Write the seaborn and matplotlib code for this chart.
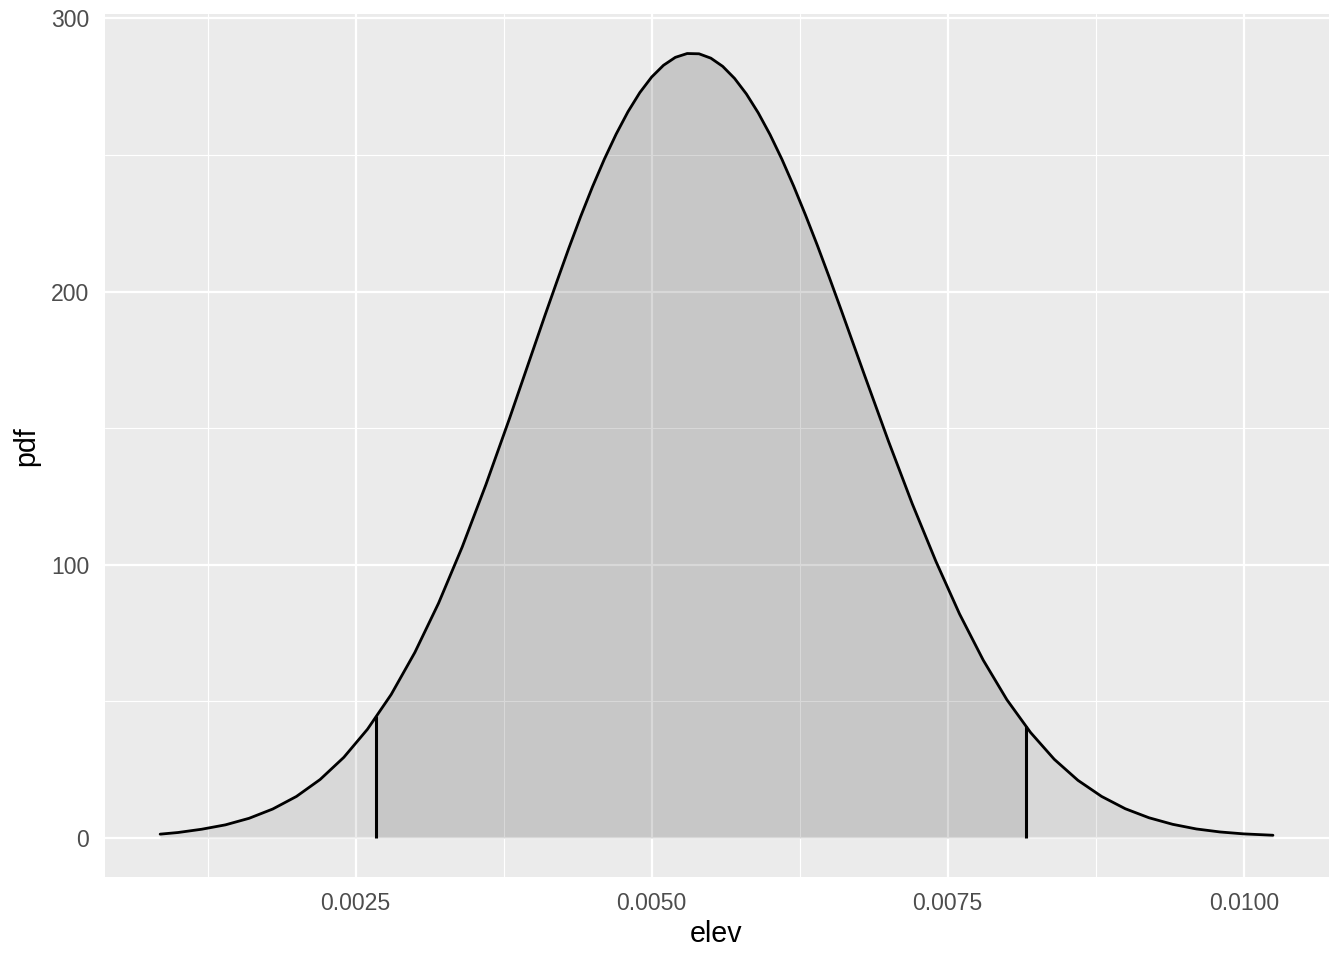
import numpy as np
import pandas as pd
import matplotlib
matplotlib.use("Agg")
import matplotlib.pyplot as plt
import seaborn as sns

# values
elev = [0.000849, 0.001000, 0.001200, 0.001400, 0.001600, 0.001800, 0.002000,
        0.002200, 0.002400, 0.002600, 0.002800, 0.003000, 0.003200, 0.003400,
        0.003600, 0.003800, 0.004000, 0.004100, 0.004200, 0.004300, 0.004400,
        0.004500, 0.004600, 0.004700, 0.004800, 0.004900, 0.005000, 0.005100,
        0.005200, 0.005300, 0.005400, 0.005500, 0.005600, 0.005700, 0.005800,
        0.005900, 0.006000, 0.006100, 0.006200, 0.006300, 0.006400, 0.006500,
        0.006600, 0.006700, 0.006800, 0.007000, 0.007200, 0.007400, 0.007600,
        0.007800, 0.008000, 0.008200, 0.008400, 0.008600, 0.008800, 0.009000,
        0.009200, 0.009400, 0.009600, 0.009800, 0.010000, 0.010247]
pdf = [1.4, 2.0, 3.2, 4.8, 7.2, 10.6, 15.2,
       21.4, 29.5, 39.8, 52.5, 67.9, 85.9, 106.5,
       129.3, 153.6, 178.8, 191.4, 203.7, 215.8, 227.4,
       238.3, 248.4, 257.6, 265.8, 272.8, 278.5, 282.8,
       285.7, 287.1, 287.0, 285.4, 282.4, 278.0, 272.3,
       265.4, 257.4, 248.4, 238.5, 227.9, 216.8, 205.2,
       193.3, 181.2, 169.1, 145.2, 122.4, 101.3, 82.0,
       65.1, 50.6, 38.6, 28.8, 21.1, 15.2, 10.7,
       7.4, 5.0, 3.3, 2.2, 1.5, 1.0]
interval = [0.002675, 0.008158]

x_ticks = [0.0025, 0.0050, 0.0075, 0.0100]
x_tick_labels = ["0.0025", "0.0050", "0.0075", "0.0100"]
x_minor = [0.00125, 0.00375, 0.00625, 0.00875]
y_ticks = [0, 100, 200, 300]
y_minor = [50, 150, 250]

df = pd.DataFrame({"elev": elev, "pdf": pdf})

sns.set_theme(style="darkgrid")
plt.rcParams["font.family"] = ["Liberation Sans", "DejaVu Sans"]

fig = plt.figure(figsize=(6.72, 4.8), dpi=200)
ax = fig.add_axes([104.5 / 1344, 1 - 877.2 / 960, (1328.6 - 104.5) / 1344, (877.2 - 14.3) / 960])
ax.set_facecolor("#EBEBEB")

ax.set_xticks(x_ticks)
ax.set_xticklabels(x_tick_labels)
ax.set_xticks(x_minor, minor=True)
ax.set_yticks(y_ticks)
ax.set_yticks(y_minor, minor=True)
ax.grid(which="major", color="white", linewidth=0.8)
ax.grid(which="minor", color="white", linewidth=0.4)
ax.set_axisbelow(True)

xs = np.array(elev)
ys = np.array(pdf)
ax.fill_between(xs, 0, ys, color="black", alpha=0.077, linewidth=0, zorder=2)
lo, hi = interval
band_x = np.concatenate([[lo], xs[(xs > lo) & (xs < hi)], [hi]])
band_y = np.interp(band_x, xs, ys)
ax.fill_between(band_x, 0, band_y, color="black", alpha=0.08, linewidth=0, zorder=2)

sns.lineplot(data=df, x="elev", y="pdf", ax=ax, color="black", linewidth=1.0,
             zorder=3, sort=False)
ax.vlines(interval, 0, np.interp(interval, xs, ys), colors="black", linewidth=1.1, zorder=3)

xr = max(elev) - min(elev)
ax.set_xlim(min(elev) - 0.05 * xr, max(elev) + 0.05 * xr)
ax.set_ylim(-0.05 * max(pdf), max(pdf) * 1.05)

for s in ax.spines.values():
    s.set_visible(False)
ax.tick_params(which="major", length=3.0, width=0.8, color="#333333",
               labelcolor="#4D4D4D", labelsize=8.3, pad=2.5)
ax.tick_params(which="minor", length=0)
ax.set_xlabel("elev", fontsize=10.3, color="black", labelpad=1.5)
ax.set_ylabel("pdf", fontsize=10.3, color="black", labelpad=4)

fig.savefig("out.png", dpi=200, facecolor="white")
